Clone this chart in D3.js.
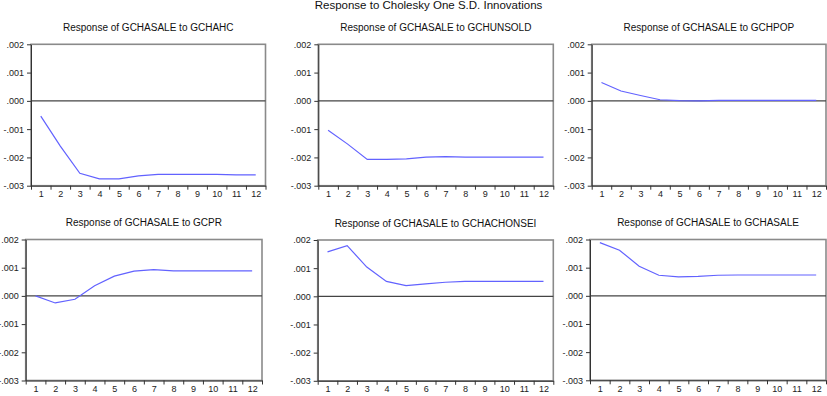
<!DOCTYPE html>
<html>
<head>
<meta charset="utf-8">
<script src="https://cdn.jsdelivr.net/npm/d3@7"></script>
<style>
  html, body { margin: 0; padding: 0; background: #fff; }
  svg { display: block; font-family: "Liberation Sans", Arial, sans-serif; }
</style>
</head>
<body>
<svg id="chart" width="827" height="396"></svg>
<script>
// ---- data ----
const mainTitle = "Response to Cholesky One S.D. Innovations";
const periods = [1,2,3,4,5,6,7,8,9,10,11,12];
const yTicks = [0.002, 0.001, 0.000, -0.001, -0.002, -0.003];
const yTickLabels = [".002", ".001", ".000", "-.001", "-.002", "-.003"];
const panelTitles = [
  "Response of GCHASALE to GCHAHC",
  "Response of GCHASALE to GCHUNSOLD",
  "Response of GCHASALE to GCHPOP",
  "Response of GCHASALE to GCPR",
  "Response of GCHASALE to GCHACHONSEI",
  "Response of GCHASALE to GCHASALE"
];
const respGCHAHC     = [-0.00054, -0.00160, -0.00256, -0.00276, -0.00276, -0.00265, -0.00260, -0.00260, -0.00260, -0.00260, -0.00262, -0.00262];
const respGCHUNSOLD  = [-0.00104, -0.00153, -0.00207, -0.00207, -0.00205, -0.00199, -0.00197, -0.00199, -0.00199, -0.00199, -0.00199, -0.00199];
const respGCHPOP     = [0.00065, 0.00035, 0.00019, 0.00004, 0.00001, 0.00000, 0.00002, 0.00002, 0.00002, 0.00002, 0.00002, 0.00002];
const respGCPR       = [0.00000, -0.00025, -0.00012, 0.00036, 0.00070, 0.00088, 0.00093, 0.00089, 0.00089, 0.00089, 0.00089, 0.00089];
const respGCHACHONSEI= [0.00158, 0.00180, 0.00104, 0.00053, 0.00038, 0.00044, 0.00050, 0.00053, 0.00053, 0.00053, 0.00053, 0.00053];
const respGCHASALE   = [0.00189, 0.00162, 0.00105, 0.00073, 0.00067, 0.00069, 0.00073, 0.00074, 0.00074, 0.00074, 0.00074, 0.00074];
const seriesList = [respGCHAHC, respGCHUNSOLD, respGCHPOP, respGCPR, respGCHACHONSEI, respGCHASALE];

// ---- layout ----
const boxes = [
  {x0: 31,    x1: 265.5, y0: 44.3,  y1: 185.7},
  {x0: 318.3, x1: 553.3, y0: 44.3,  y1: 185.7},
  {x0: 591.7, x1: 826,   y0: 44.3,  y1: 185.7},
  {x0: 25.7,  x1: 262,   y0: 239.5, y1: 380.5},
  {x0: 317.7, x1: 553.3, y0: 240,   y1: 380.8},
  {x0: 590,   x1: 826,   y0: 239.5, y1: 380.3}
];

const svg = d3.select("#chart");

svg.append("text")
  .attr("x", 428.5).attr("y", 8.5)
  .attr("text-anchor", "middle")
  .attr("font-size", 11.5)
  .attr("fill", "#111")
  .text(mainTitle);

boxes.forEach((b, i) => {
  const g = svg.append("g");
  const x = d3.scaleLinear().domain([0.5, 12.5]).range([b.x0, b.x1]);
  const y = d3.scaleLinear().domain([-0.003, 0.002]).range([b.y1, b.y0]);

  // title
  g.append("text")
    .attr("x", (b.x0 + b.x1) / 2).attr("y", b.y0 - 13.5)
    .attr("text-anchor", "middle")
    .attr("font-size", 10)
    .attr("fill", "#111")
    .text(panelTitles[i]);

  // frame (top/right lighter)
  g.append("rect")
    .attr("x", b.x0).attr("y", b.y0)
    .attr("width", b.x1 - b.x0).attr("height", b.y1 - b.y0)
    .attr("fill", "none").attr("stroke", "#8a8a8a").attr("stroke-width", 1.6);

  // zero line
  g.append("line")
    .attr("x1", b.x0).attr("x2", b.x1)
    .attr("y1", y(0)).attr("y2", y(0))
    .attr("stroke", "#444").attr("stroke-width", 1.2);

  // y axis
  const yAxis = d3.axisLeft(y)
    .tickValues(yTicks)
    .tickFormat((d, k) => yTickLabels[k])
    .tickSizeInner(4).tickSizeOuter(0).tickPadding(3);
  const ya = g.append("g").attr("transform", `translate(${b.x0},0)`).call(yAxis);
  ya.select(".domain").attr("stroke", "#333");
  ya.selectAll(".tick line").attr("stroke", "#333");
  ya.selectAll("text").attr("font-size", 9).attr("fill", "#222")
    .attr("font-family", "Liberation Sans, Arial, sans-serif");

  // x axis: ticks at period boundaries, labels at periods
  const xb = d3.range(0.5, 13, 1);
  const xAxisTicks = d3.axisBottom(x).tickValues(xb).tickFormat("")
    .tickSizeInner(4).tickSizeOuter(0);
  const xa = g.append("g").attr("transform", `translate(0,${b.y1})`).call(xAxisTicks);
  xa.select(".domain").attr("stroke", "#333");
  xa.selectAll(".tick line").attr("stroke", "#333");

  const xAxisLabels = d3.axisBottom(x).tickValues(periods).tickFormat(d3.format("d"))
    .tickSize(0).tickPadding(5);
  const xl = g.append("g").attr("transform", `translate(0,${b.y1})`).call(xAxisLabels);
  xl.select(".domain").remove();
  xl.selectAll("text").attr("font-size", 9).attr("fill", "#222")
    .attr("font-family", "Liberation Sans, Arial, sans-serif");

  // response line
  const line = d3.line().x((d, k) => x(periods[k])).y(d => y(d));
  g.append("path")
    .datum(seriesList[i])
    .attr("d", line)
    .attr("fill", "none")
    .attr("stroke", "#6262ff")
    .attr("stroke-width", 1.2);
});
</script>
</body>
</html>
